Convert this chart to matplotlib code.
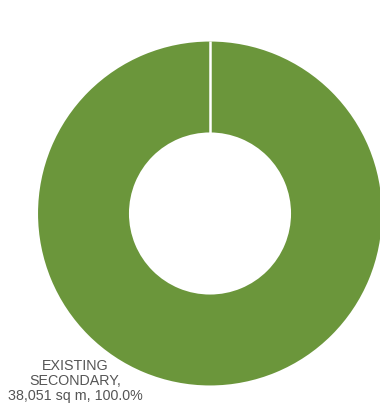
import matplotlib
matplotlib.use("Agg")
import numpy as np
import matplotlib.pyplot as plt

# data
categories = ["EXISTING\nSECONDARY"]
areas = [38051]
colors = ["#6b963b"]

total = sum(areas)
labels = [f"{c},\n{a:,} sq m, {a / total * 100:.1f}%" for c, a in zip(categories, areas)]

cx, cy = 210, 409 - 213.5
r_out, r_in = 173, 80
start = 90

fig = plt.figure(figsize=(3.8, 4.09), dpi=100)
ax = fig.add_axes([0, 0, 1, 1])

ax.pie(areas, colors=colors, startangle=start, counterclock=False,
       center=(cx, cy), radius=r_out, frame=True,
       wedgeprops=dict(width=r_out - r_in, edgecolor="white", linewidth=1.5))

# slice boundary (full-circle wedge has no radial edge drawn)
a = np.deg2rad(start)
ax.plot([cx + r_in * np.cos(a), cx + r_out * np.cos(a)],
        [cy + r_in * np.sin(a), cy + r_out * np.sin(a)],
        color="white", lw=1.8, solid_capstyle="butt")

ax.set_xlim(0, 380)
ax.set_ylim(0, 409)
ax.set_aspect("equal")
ax.axis("off")

ax.text(75, 28, labels[0], ha="center", va="center", fontsize=10.3,
        family="Liberation Sans", color="#555555", linespacing=1.1)

fig.savefig("out.png", dpi=100)
